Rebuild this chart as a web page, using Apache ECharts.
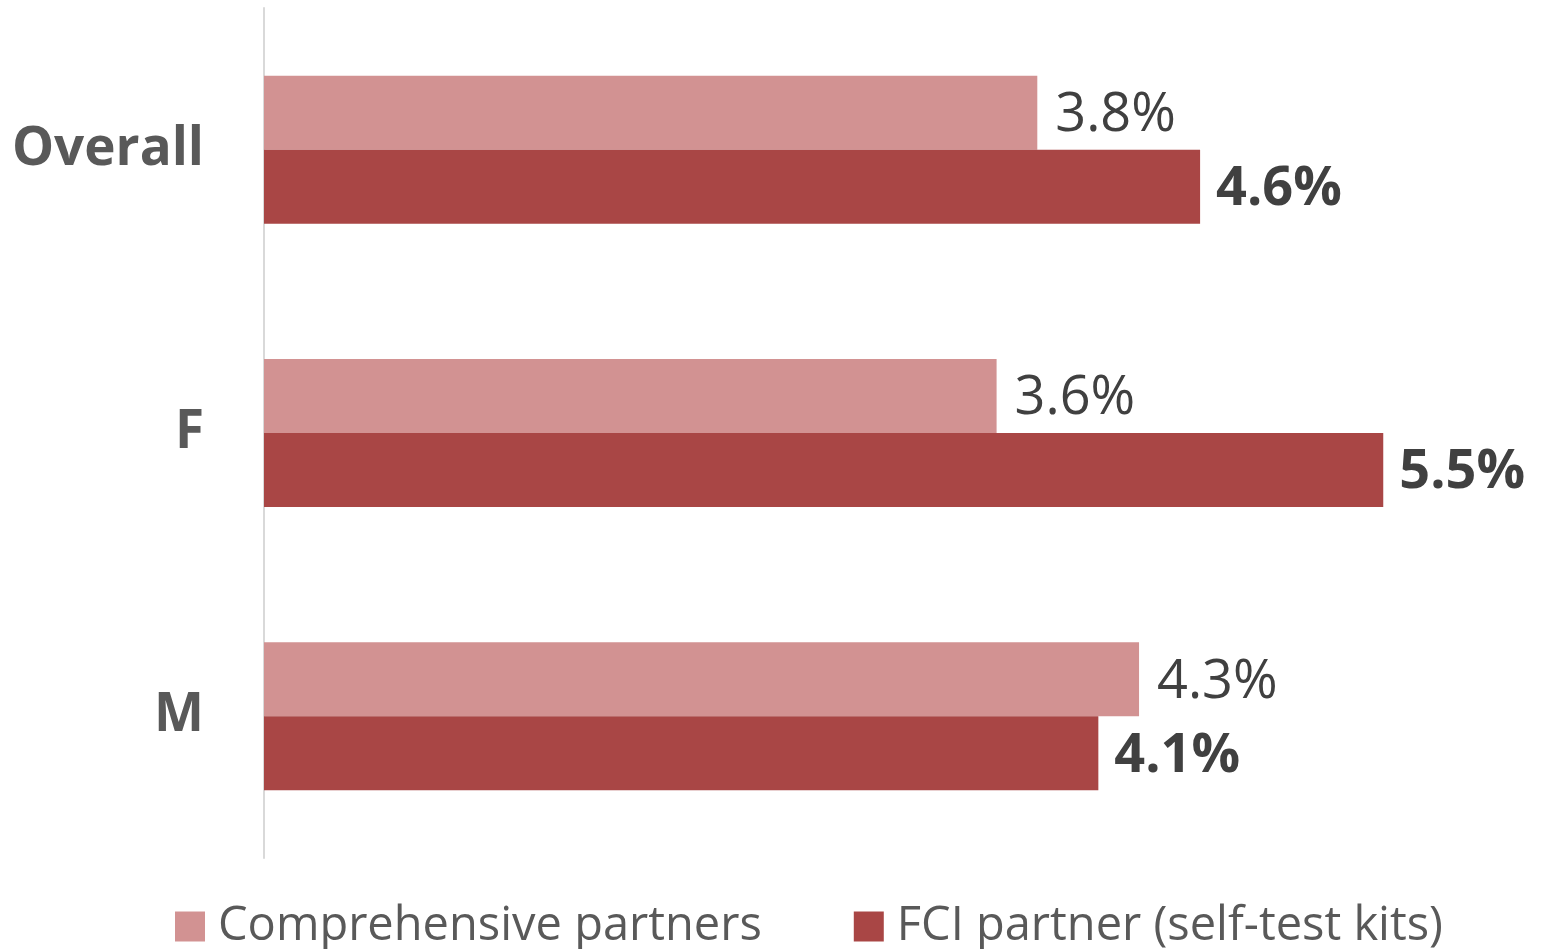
<!DOCTYPE html>
<html>
<head>
<meta charset="utf-8">
<script src="https://cdn.jsdelivr.net/npm/echarts@6/dist/echarts.min.js"></script>
<style>
  html, body { margin: 0; padding: 0; background: #fff; }
  #main { width: 1541px; height: 949px; }
</style>
</head>
<body>
<div id="main"></div>
<script>
// chart data
const categories = ['Overall', 'F', 'M'];
const seriesNames = ['Comprehensive partners', 'FCI partner (self-test kits)'];
const comprehensive = [3.8, 3.6, 4.3];
const fciPartner = [4.6, 5.5, 4.1];

const chart = echarts.init(document.getElementById('main'));

const font = '"Open Sans", "Noto Sans", sans-serif';

const option = {
  animation: false,
  grid: {
    left: 264,
    right: 56,
    top: 8,
    bottom: 91
  },
  legend: {
    data: seriesNames,
    left: 170,
    bottom: -6,
    itemWidth: 30,
    itemHeight: 30,
    itemGap: 92,
    icon: 'rect',
    textStyle: {
      fontFamily: font,
      fontSize: 47,
      color: '#595959',
      padding: [0, 0, 0, 8]
    }
  },
  xAxis: {
    type: 'value',
    min: 0,
    max: 6,
    show: false,
    splitLine: { show: false }
  },
  yAxis: {
    type: 'category',
    data: categories,
    inverse: true,
    axisLine: { show: true, lineStyle: { color: '#d9d9d9', width: 2 } },
    axisTick: { show: false },
    axisLabel: {
      margin: 60,
      fontFamily: font,
      fontSize: 53,
      fontWeight: 'bold',
      color: '#595959'
    }
  },
  series: [
    {
      name: seriesNames[0],
      type: 'bar',
      data: comprehensive,
      barWidth: 74,
      barGap: '0%',
      itemStyle: { color: '#d29292' },
      label: {
        show: true,
        position: 'right',
        distance: 18,
        offset: [0, 3],
        formatter: (p) => p.value.toFixed(1) + '%',
        fontFamily: font,
        fontSize: 54,
        color: '#404040'
      }
    },
    {
      name: seriesNames[1],
      type: 'bar',
      data: fciPartner,
      barWidth: 74,
      barGap: '0%',
      itemStyle: { color: '#a94645' },
      label: {
        show: true,
        position: 'right',
        distance: 16,
        offset: [0, 3],
        formatter: (p) => p.value.toFixed(1) + '%',
        fontFamily: font,
        fontSize: 54,
        fontWeight: 'bold',
        color: '#404040'
      }
    }
  ]
};

chart.setOption(option);
</script>
</body>
</html>
